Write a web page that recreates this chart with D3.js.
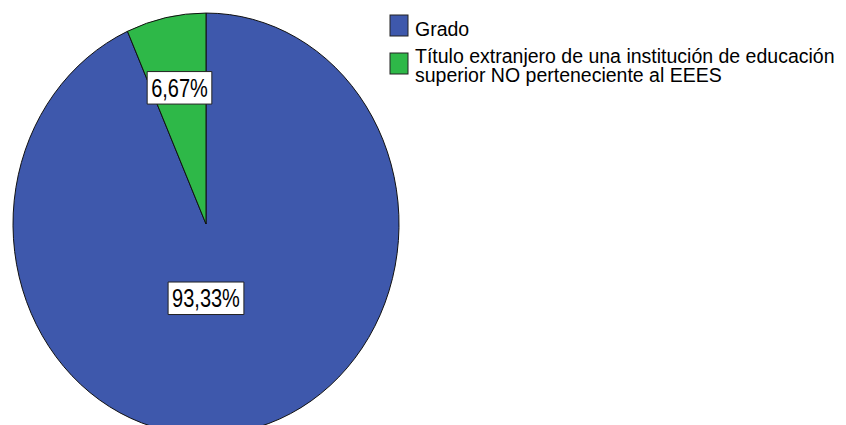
<!DOCTYPE html>
<html lang="es">
<head>
<meta charset="utf-8">
<script src="https://cdn.jsdelivr.net/npm/d3@7"></script>
<style>
  body { margin:0; padding:0; background:#fff; }
  svg text { font-family: "Liberation Sans", Arial, sans-serif; fill:#000; }
</style>
</head>
<body>
<div id="chart"></div>
<script>
// datos
var categories = ["Grado", "Título extranjero de una institución de educación superior NO perteneciente al EEES"];
var legendLines = [["Grado"], ["Título extranjero de una institución de educación", "superior NO perteneciente al EEES"]];
var percents = [93.33, 6.67];
var colors = ["#3e58ac", "#2eb848"];

var W = 846, H = 425;
var R = 193, stretch = 1.093;   // la imagen original esta algo estirada en vertical

var svg = d3.select("#chart").append("svg")
  .attr("width", W).attr("height", H);

var pie = d3.pie().sort(null).value(function(d){ return d; });
var arcs = pie(percents);
var arc = d3.arc().innerRadius(0).outerRadius(R);

var g = svg.append("g")
  .attr("transform", "translate(206,224) scale(1," + stretch + ")");

g.selectAll("path").data(arcs).enter().append("path")
  .attr("d", arc)
  .attr("fill", function(d,i){ return colors[i]; })
  .attr("stroke", "#111")
  .attr("stroke-width", 1)
  .attr("vector-effect", "non-scaling-stroke");

// etiquetas con caja blanca
var fmt = function(v){ return v.toFixed(2).replace(".", ",") + "%"; };
var labelR = [0.36, 0.66];
arcs.forEach(function(d, i){
  var a = (d.startAngle + d.endAngle) / 2;
  // la etiqueta grande va casi en la vertical del centro
  var x = 206 + (i === 0 ? 0 : Math.sin(a) * R * labelR[i]);
  var y = 224 - Math.cos(a) * R * labelR[i] * stretch;
  var lg = svg.append("g").attr("transform", "translate(" + x + "," + y + ") scale(1,1.25)");
  var t = lg.append("text")
    .attr("text-anchor", "middle")
    .attr("dy", "0.36em")
    .style("font-size", "20px")
    .text(fmt(d.data));
  var bb = t.node().getBBox();
  lg.insert("rect", "text")
    .attr("x", bb.x - 4).attr("y", -13)
    .attr("width", bb.width + 8).attr("height", 26)
    .attr("fill", "#fff")
    .attr("stroke", "#222")
    .attr("stroke-width", 1)
    .attr("vector-effect", "non-scaling-stroke");
});

// leyenda
var legY = [15, 53];
var leg = svg.append("g");
legendLines.forEach(function(lines, i){
  leg.append("rect")
    .attr("x", 390).attr("y", legY[i])
    .attr("width", 18).attr("height", 21)
    .attr("fill", colors[i])
    .attr("stroke", "#222")
    .attr("stroke-width", 1);
  var t = leg.append("text")
    .attr("x", 415).attr("y", i === 0 ? 36 : 63)
    .style("font-size", "19.5px");
  lines.forEach(function(line, j){
    t.append("tspan")
      .attr("x", 415)
      .attr("dy", j === 0 ? 0 : 19)
      .text(line);
  });
});
</script>
</body>
</html>
